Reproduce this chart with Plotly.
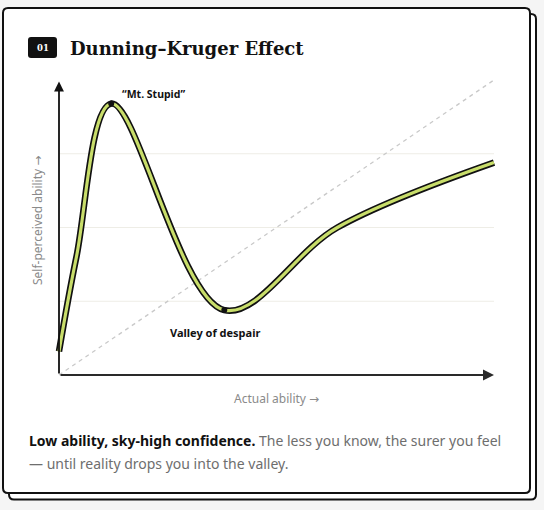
import plotly.graph_objects as go

# ---- data ----
skill = [0, 4, 12, 38, 64, 100]          # actual ability (0-100)
confidence = [8, 40, 92, 22, 50, 72]     # self-perceived ability (0-100)
peak_idx = 2
valley_idx = 3
diag_x = [0, 100]
diag_y = [0, 100]
grid_vals = [25, 50, 75]
peak_label = "“Mt. Stupid”"
valley_label = "Valley of despair"
title_text = "Dunning–Kruger Effect"
badge_text = "01"
x_title = "Actual ability"
y_title = "Self-perceived ability"
arrow_glyph = "→"
caption_bold = "Low ability, sky-high confidence."
caption_1 = "The less you know, the surer you feel"
caption_2 = "— until reality drops you into the valley."

W, H = 544, 510
# pixel layout of plot area: x 0..100 -> 59..494 px, y 0..100 -> 375..80 px
X0, X1, Y0, Y1 = 59, 494, 375, 80
xr = [-2, 102]
yr = [-2, 102]
sx = (X1 - X0) / 100.0
sy = (Y0 - Y1) / 100.0
px_l = X0 + xr[0] * sx
px_r = X0 + xr[1] * sx
py_b = Y0 - yr[0] * sy
py_t = Y0 - yr[1] * sy


def PX(x):
    return x / W


def PY(y):
    return 1 - y / H


def rrect(x0, y0, x1, y1, r):
    rx, ry = r / W, r / H
    a, b, c, d = PX(x0), PY(y0), PX(x1), PY(y1)
    return (f"M {a+rx},{b} L {c-rx},{b} Q {c},{b} {c},{b-ry} "
            f"L {c},{d+ry} Q {c},{d} {c-rx},{d} L {a+rx},{d} "
            f"Q {a},{d} {a},{d+ry} L {a},{b-ry} Q {a},{b} {a+rx},{b} Z")


fig = go.Figure()

fig.add_trace(go.Scatter(x=diag_x, y=diag_y, mode="lines",
                         line=dict(color="#c9c9c9", width=1.3, dash="4px,4px"),
                         hoverinfo="skip"))
fig.add_trace(go.Scatter(x=skill, y=confidence, mode="lines",
                         line=dict(color="#111111", width=6.5, shape="spline", smoothing=1.0),
                         hoverinfo="skip"))
fig.add_trace(go.Scatter(x=skill, y=confidence, mode="lines",
                         line=dict(color="#c8dd6a", width=3.2, shape="spline", smoothing=1.0),
                         hoverinfo="skip"))
fig.add_trace(go.Scatter(x=[skill[peak_idx], skill[valley_idx]],
                         y=[confidence[peak_idx], confidence[valley_idx]],
                         mode="markers", marker=dict(color="#111111", size=6),
                         hoverinfo="skip", cliponaxis=False))

shapes = []
# card shadow and card
shapes.append(dict(type="path", xref="paper", yref="paper", layer="below",
                   path=rrect(9, 14, 536, 499.5, 5), fillcolor="#ffffff",
                   line=dict(color="#111111", width=2)))
shapes.append(dict(type="path", xref="paper", yref="paper", layer="below",
                   path=rrect(3, 8, 530, 493, 5), fillcolor="#ffffff",
                   line=dict(color="#111111", width=2)))
# badge
shapes.append(dict(type="path", xref="paper", yref="paper",
                   path=rrect(28, 37, 57, 58, 3), fillcolor="#111111",
                   line=dict(width=0)))
# grid lines
for g in grid_vals:
    shapes.append(dict(type="line", xref="x", yref="y", layer="below",
                       x0=0, x1=100, y0=g, y1=g,
                       line=dict(color="#eeede6", width=1)))

annotations = []
# axes with arrows
annotations.append(dict(x=100, y=0, ax=0, ay=0, xref="x", yref="y", axref="x", ayref="y",
                        text="", showarrow=True, arrowhead=2, arrowsize=1.1,
                        arrowwidth=2, arrowcolor="#2a2a2a"))
annotations.append(dict(x=0, y=99.5, ax=0, ay=0, xref="x", yref="y", axref="x", ayref="y",
                        text="", showarrow=True, arrowhead=2, arrowsize=1.1,
                        arrowwidth=1.8, arrowcolor="#111111"))
# point labels
annotations.append(dict(x=(153 - X0) / sx, y=(Y0 - 94) / sy, xref="x", yref="y",
                        xanchor="center", yanchor="middle",
                        text=f"<b>{peak_label}</b>", showarrow=False,
                        font=dict(family="Noto Sans", size=10.5, color="#111111")))
annotations.append(dict(x=(215 - X0) / sx, y=(Y0 - 333) / sy, xref="x", yref="y",
                        xanchor="center", yanchor="middle",
                        text=f"<b>{valley_label}</b>", showarrow=False,
                        font=dict(family="Noto Sans", size=11, color="#111111")))
# axis titles
arrow_span = f"<span style='font-family:DejaVu Sans'>{arrow_glyph}</span>"
annotations.append(dict(x=PX(276), y=PY(398), xref="paper", yref="paper",
                        xanchor="center", yanchor="middle",
                        text=f"{x_title} {arrow_span}", showarrow=False,
                        font=dict(family="Noto Sans", size=12, color="#8a8a8a")))
annotations.append(dict(x=PX(37), y=PY(221), xref="paper", yref="paper",
                        xanchor="center", yanchor="middle",
                        text=f"{y_title} {arrow_span}", showarrow=False, textangle=-90,
                        font=dict(family="Noto Sans", size=12, color="#8a8a8a")))
# title + badge
annotations.append(dict(x=PX(68), y=PY(48), xref="paper", yref="paper",
                        xanchor="left", yanchor="middle",
                        text=f"<b>{title_text}</b>", showarrow=False,
                        font=dict(family="DejaVu Serif", size=18, color="#111111")))
annotations.append(dict(x=PX(42.5), y=PY(47.5), xref="paper", yref="paper",
                        xanchor="center", yanchor="middle",
                        text=f"<b>{badge_text}</b>", showarrow=False,
                        font=dict(family="DejaVu Serif", size=8.5, color="#ffffff")))
# caption
annotations.append(dict(x=PX(27), y=PY(440), xref="paper", yref="paper",
                        xanchor="left", yanchor="middle",
                        text=f"<b>{caption_bold}</b> <span style='color:#6e6e6e'>{caption_1}</span>",
                        showarrow=False,
                        font=dict(family="Noto Sans", size=14, color="#111111")))
annotations.append(dict(x=PX(27), y=PY(463), xref="paper", yref="paper",
                        xanchor="left", yanchor="middle",
                        text=caption_2, showarrow=False,
                        font=dict(family="Noto Sans", size=14, color="#6e6e6e")))

fig.update_layout(
    width=W, height=H,
    margin=dict(l=0, r=0, t=0, b=0),
    paper_bgcolor="#f5f5f5",
    plot_bgcolor="rgba(0,0,0,0)",
    showlegend=False,
    shapes=shapes,
    annotations=annotations,
    xaxis=dict(domain=[px_l / W, px_r / W], range=xr, showgrid=False, zeroline=False,
               showticklabels=False, showline=False, fixedrange=True),
    yaxis=dict(domain=[1 - py_b / H, 1 - py_t / H], range=yr, showgrid=False, zeroline=False,
               showticklabels=False, showline=False, fixedrange=True),
)

fig.write_html("out.html")
